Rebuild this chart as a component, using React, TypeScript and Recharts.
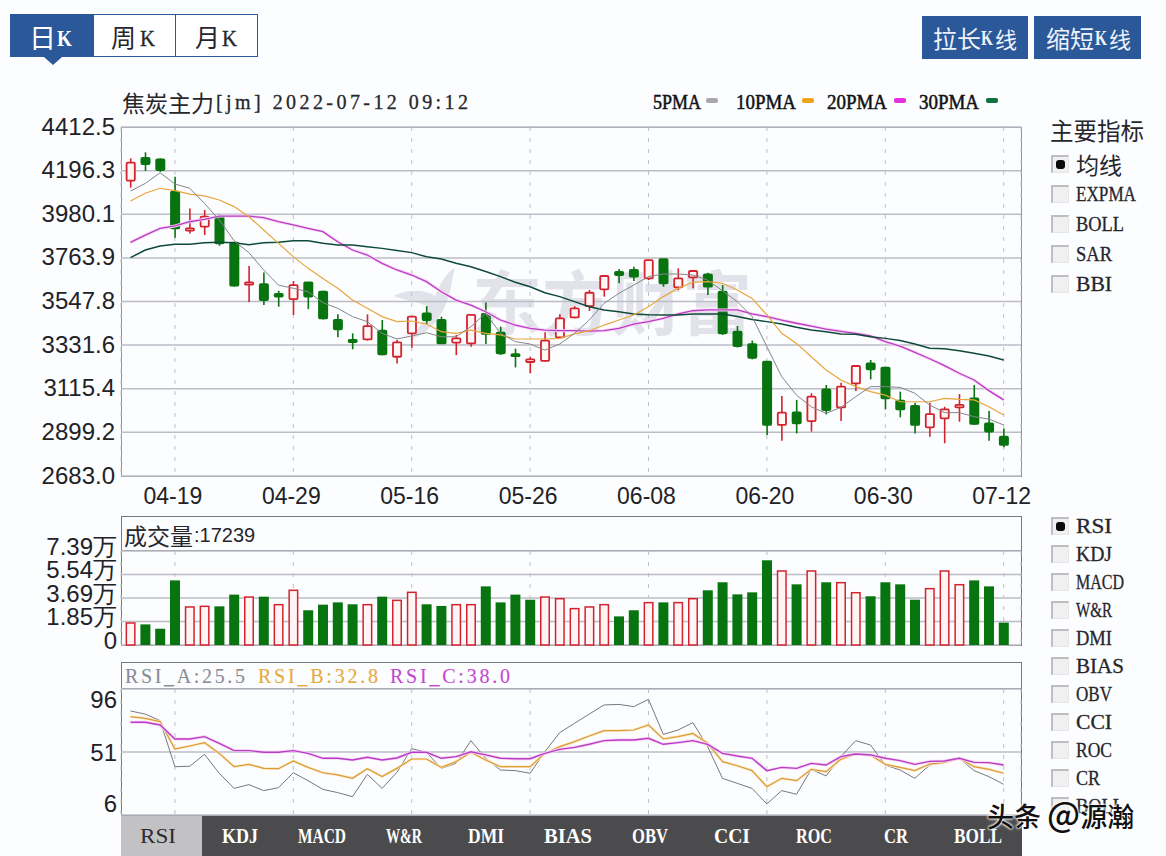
import React from 'react';
import { ComposedChart, Bar, Line, XAxis, YAxis, CartesianGrid } from 'recharts';

const dateLabels = ['04-19', '04-29', '05-16', '05-26', '06-08', '06-20', '06-30', '07-12'];
const dateTicks = [3, 11, 19, 27, 35, 43, 51, 59];
const priceTicks = [2683, 2899.2, 3115.4, 3331.6, 3547.8, 3763.9, 3980.1, 4196.3, 4412.5];
const volumeTicks = [0, 1.85, 3.69, 5.54, 7.39];
const rsiTicks = [6, 51, 96];

const high = [4257,4287,4257,4166,4009,4001,3980,3839,3724,3692,3601,3649,3643,3601,3484,3390,3484,3456,3357,3476,3525,3473,3382,3486,3543,3423,3314,3274,3395,3484,3525,3605,3679,3709,3720,3753,3758,3712,3700,3690,3629,3426,3354,3250,3079,3060,3093,3134,3145,3233,3258,3225,3101,3046,3046,3026,3089,3134,3005,2919];
const bodyTop = [4236,4259,4252,4092,3910,3968,3968,3839,3643,3634,3585,3629,3643,3596,3456,3357,3426,3403,3345,3473,3489,3456,3365,3481,3486,3393,3287,3261,3354,3464,3514,3591,3674,3695,3704,3753,3757,3662,3699,3682,3596,3398,3337,3250,2997,2998,3076,3112,3126,3228,3241,3220,3056,3030,2990,3013,3035,3068,2944,2878];
const bodyBottom = [4147,4229,4199,3910,3899,3919,3836,3626,3631,3555,3572,3560,3572,3464,3410,3347,3360,3286,3274,3390,3456,3340,3344,3340,3387,3291,3277,3248,3254,3370,3469,3525,3608,3679,3671,3662,3638,3618,3667,3621,3390,3327,3269,2936,2936,2944,2955,3010,3023,3142,3212,3068,3013,2936,2924,2969,3023,2941,2903,2837];
const low = [4112,4194,4190,3864,3885,3877,3824,3621,3545,3530,3522,3481,3510,3459,3370,3311,3354,3281,3241,3319,3436,3337,3282,3324,3337,3283,3221,3192,3251,3365,3464,3501,3572,3638,3649,3654,3621,3605,3613,3580,3382,3320,3261,2886,2858,2894,2903,2988,2955,3104,3162,3013,2974,2894,2878,2845,2952,2936,2858,2825];
const candleRising = [1,0,0,0,1,1,0,0,1,0,0,1,0,0,0,0,1,0,1,1,0,0,1,1,0,0,0,1,1,1,1,1,1,0,0,1,0,1,1,0,0,0,0,0,1,0,1,0,1,1,0,0,0,0,1,1,1,0,0,0];

const ma5 = [4095,4133,4186,4130,4109,4034,3952,3849,3790,3704,3629,3613,3596,3542,3514,3473,3448,3390,3362,3377,3393,3373,3373,3423,3489,3390,3349,3337,3307,3337,3390,3456,3539,3588,3629,3671,3684,3684,3679,3654,3601,3547,3473,3324,3175,3084,3026,2993,3023,3076,3126,3126,3122,3093,3035,2997,2997,2977,2965,2936];
const ma10 = [4046,4084,4109,4097,4080,4071,4051,4018,3968,3902,3836,3770,3712,3662,3613,3555,3514,3473,3448,3451,3436,3398,3390,3406,3390,3382,3362,3362,3362,3365,3387,3403,3431,3456,3481,3522,3572,3613,3643,3646,3638,3605,3563,3481,3390,3340,3274,3208,3159,3126,3101,3084,3051,3051,3051,3068,3063,3060,3026,2985];
const ma20 = [3841,3877,3910,3922,3943,3955,3971,3971,3971,3963,3943,3927,3910,3894,3844,3803,3778,3737,3704,3679,3646,3596,3555,3530,3497,3456,3431,3415,3406,3403,3403,3401,3403,3415,3436,3448,3464,3486,3502,3506,3506,3506,3486,3473,3456,3440,3426,3411,3400,3390,3377,3349,3327,3296,3264,3230,3192,3159,3106,3060];
const ma30 = [3765,3803,3823,3831,3831,3839,3841,3839,3829,3839,3841,3849,3849,3836,3828,3828,3819,3811,3800,3790,3770,3758,3737,3720,3696,3671,3643,3621,3591,3572,3547,3522,3506,3497,3486,3482,3481,3481,3486,3486,3486,3473,3459,3448,3436,3420,3406,3398,3387,3385,3373,3365,3354,3337,3316,3314,3304,3291,3278,3258];

const volume = [1.73,1.62,1.28,5.08,2.99,3.04,3.04,3.96,3.77,3.80,3.17,4.30,2.73,3.17,3.35,3.20,3.17,3.80,3.51,4.14,3.20,3.07,3.17,3.17,4.61,3.35,3.96,3.56,3.77,3.64,2.86,2.99,3.17,2.25,2.73,3.33,3.35,3.33,3.64,4.30,4.93,3.98,4.14,6.66,5.82,4.77,5.82,4.93,4.90,4.11,3.83,4.93,4.77,3.56,4.43,5.82,4.74,5.08,4.61,1.76];
const volumeRising = [1,0,0,0,1,1,0,0,1,0,1,1,0,0,0,0,1,0,1,1,0,0,1,1,0,0,0,0,1,1,1,1,1,0,0,1,0,1,1,0,0,0,0,0,1,0,1,0,1,1,0,0,0,0,1,1,1,0,0,0];

const rsiA = [80.3,78.1,73.4,40.5,40.8,49.3,35.8,25.0,27.7,23.4,25.5,36.2,30.5,24.3,22.0,19.1,35.0,25.0,36.5,53.4,50.8,39.3,42.9,59.1,46.5,38.1,37.7,35.8,51.2,64.8,71.5,78.1,84.6,85.0,83.4,88.6,63.6,66.7,72.0,54.8,32.2,28.6,25.0,13.9,23.4,20.8,38.6,33.9,47.7,59.1,56.0,41.7,38.1,32.2,41.7,43.6,46.5,37.7,33.4,27.9];
const rsiB = [76.2,75.0,72.7,53.1,55.3,57.7,50.0,40.5,42.2,39.3,39.1,44.6,40.0,36.2,34.6,32.2,39.1,33.4,39.3,46.0,46.0,40.0,44.1,50.8,45.3,40.5,40.5,40.5,50.0,54.8,58.4,62.4,66.2,66.2,66.7,70.3,60.3,62.0,64.3,57.2,44.1,41.2,37.7,26.2,32.2,30.5,38.6,37.0,45.8,49.6,48.9,42.2,40.0,37.7,42.4,43.6,46.5,40.5,38.6,35.8];
const rsiC = [72.2,72.2,70.3,60.3,60.3,62.0,57.2,52.0,52.0,50.8,50.8,52.0,50.0,46.5,46.5,45.3,47.2,45.3,46.7,50.8,50.8,46.5,47.7,51.2,48.9,46.5,46.2,46.2,50.0,52.9,54.3,56.5,59.1,59.6,59.6,60.8,56.5,57.7,59.1,56.5,50.0,48.1,46.5,37.7,40.0,39.3,42.9,41.7,47.7,49.6,48.9,46.5,44.8,42.2,44.3,44.6,46.5,43.6,43.4,41.7];

const mainIndicators = ['均线', 'EXPMA', 'BOLL', 'SAR', 'BBI'];
const subIndicators = ['RSI', 'KDJ', 'MACD', 'W&R', 'DMI', 'BIAS', 'OBV', 'CCI', 'ROC', 'CR', 'BOLL'];
const maLegend = [
  { name: '5PMA', color: '#a9a9ad', text: 653, swatch: 706 },
  { name: '10PMA', color: '#eea51c', text: 736, swatch: 802 },
  { name: '20PMA', color: '#e52fe0', text: 827, swatch: 894 },
  { name: '30PMA', color: '#0c7440', text: 919, swatch: 986 },
];

const rows = high.map((h, i) => ({
  i, high: h, low: low[i], top: bodyTop[i], bottom: bodyBottom[i], rising: candleRising[i],
  ma5: ma5[i], ma10: ma10[i], ma20: ma20[i], ma30: ma30[i],
  volume: volume[i], volRising: volumeRising[i],
  rsiA: rsiA[i], rsiB: rsiB[i], rsiC: rsiC[i],
}));

const RED = '#d3232e';
const GREEN = '#08740f';
const BLUE = '#2a5898';
const SERIF = '"Liberation Serif", serif';
const CJK = '"Noto Sans CJK SC", sans-serif';
const SANS = '"Liberation Sans", sans-serif';
const X_DOMAIN: [number, number] = [-0.642, 60.17];
const GRID = '#bcbdc6';
const DASH = '#bfc0c4';

function Candle(props: any) {
  const { x, y, width, height, payload } = props;
  const color = payload.rising ? RED : GREEN;
  const cx = x + width / 2 + 0.6;
  const per = height / (payload.high - payload.low);
  const yTop = y + (payload.high - payload.top) * per;
  const yBot = y + (payload.high - payload.bottom) * per;
  return (
    <g>
      <line x1={cx} x2={cx} y1={y} y2={y + height} stroke={color} strokeWidth={1.6} />
      <rect x={x + 1.5} y={yTop} width={width - 1.8} height={Math.max(yBot - yTop, 1.5)} rx={1}
        fill={payload.rising ? '#fff6f6' : color} stroke={color} strokeWidth={1.8} />
    </g>
  );
}

function VolumeBar(props: any) {
  const { x, y, width, height, payload } = props;
  return payload.volRising ? (
    <rect x={x + 1.25} y={y} width={width - 1.5} height={height} fill="#fff4f4" stroke={RED} strokeWidth={1.5} />
  ) : (
    <rect x={x + 0.5} y={y} width={width} height={height} fill={GREEN} />
  );
}

function axisText(x: number, y: number, s: string) {
  return (
    <text x={x} y={y} textAnchor="end" dominantBaseline="central" fill="#222226"
      style={{ fontFamily: SANS, fontSize: 24 }}>{s}</text>
  );
}

const PriceTick = ({ x, y, payload }: any) => axisText(x, y - 1, payload.value === 2683 ? '2683.0' : String(payload.value));
const VolumeTick = ({ x, y, payload }: any) =>
  axisText(x + 2, y - 5, payload.value === 0 ? '0' : `${payload.value}万`);
const RsiTick = ({ x, y, payload }: any) =>
  axisText(x + 2, y + (payload.value === 96 ? 10 : payload.value === 6 ? -12 : 0), String(payload.value));
const DateTick = ({ x, y, payload }: any) => (
  <text x={x - 2} y={y + 12} textAnchor="middle" dominantBaseline="central" fill="#222226" style={{ fontFamily: SANS, fontSize: 23 }}>
    {dateLabels[dateTicks.indexOf(payload.value)]}
  </text>
);

const Txt = ({ x, y, size = 20, font = CJK, color = '#26262c', weight = 400, children, extra }: any) => (
  <span style={{ position: 'absolute', left: x, top: y, transform: 'translateY(-50%)', fontFamily: font, fontSize: size, color,
    fontWeight: weight, whiteSpace: 'pre', lineHeight: 1, ...extra }}>{children}</span>
);

// Latin captions: a serif fitted to the fixed character cell the reference uses.
const Cell = ({ x, y, size = 20, cell = 12, color = '#26262c', weight = 400, centre = false, children, bold = 0.3, adjust = 'spacingAndGlyphs' }: any) => {
  const s = String(children);
  const w = s.length * cell;
  return (
    <text x={centre ? x - w / 2 : x} y={y} dominantBaseline="central" textLength={w} lengthAdjust={adjust}
      fill={color} stroke={color} strokeWidth={bold} xmlSpace="preserve"
      style={{ fontFamily: SERIF, fontSize: size, fontWeight: weight, whiteSpace: 'pre' }}>{s}</text>
  );
};

const Box = ({ x, y, w, h, bg, border, extra }: any) => (
  <div style={{ position: 'absolute', left: x, top: y, width: w, height: h, boxSizing: 'border-box', background: bg, border, ...extra }} />
);

const Check = ({ y, on }: any) => (
  <div style={{ position: 'absolute', left: 1051, top: y - 9, width: 18, height: 18, boxSizing: 'border-box', background: '#f0f0f1',
    borderTop: '2px solid #bdbdc2', borderLeft: '2px solid #bdbdc2', borderRight: '1px solid #e6e6e8', borderBottom: '1px solid #e6e6e8' }}>
    {on ? <div style={{ position: 'absolute', left: 3, top: 3, width: 9, height: 9, borderRadius: 3, background: '#0a0a0a' }} /> : null}
  </div>
);

const sharedX = (
  <XAxis dataKey="i" type="number" domain={X_DOMAIN} ticks={dateTicks} hide allowDataOverflow />
);

export default function App() {
  return (
    <div style={{ position: 'absolute', left: 0, top: 0, width: 1166, height: 856, overflow: 'hidden', background: '#fcfdfe' }}>
      <svg style={{ position: 'absolute', left: 385, top: 262 }} width={85} height={85}>
        <path d="M8 34 C24 26 42 28 50 34 C56 20 62 10 70 6 C66 20 66 36 56 52 C48 66 36 74 24 78 C36 64 42 54 42 44 C32 40 20 38 8 34 Z" fill="#e2e3ea" />
      </svg>
      <Txt x={472} y={300} size={70} color="#e2e3ea" weight={700}>东方财富</Txt>

      <Box x={121} y={127} w={901} h={350} border="1.5px solid #8f9098" />
      <Box x={121} y={516} w={901} h={130} border="1.5px solid #77787f" />
      <Box x={121} y={550} w={901} h={1} bg="#77787f" />
      <Box x={121} y={662} w={901} h={154} border="1.5px solid #77787f" />
      <Box x={121} y={688} w={901} h={1} bg="#77787f" />

      <div style={{ position: 'absolute', left: 0, top: 0 }}>
        <ComposedChart width={1166} height={520} data={rows} margin={{ top: 127, right: 145, bottom: 0, left: 0 }}>
          <CartesianGrid vertical={false} stroke={GRID} strokeWidth={1.5} />
          <CartesianGrid horizontal={false} stroke={DASH} strokeDasharray="4 7" strokeWidth={1} />
          <XAxis dataKey="i" type="number" domain={X_DOMAIN} ticks={dateTicks} interval={0} height={44}
            axisLine={false} tickLine={false} tick={<DateTick />} allowDataOverflow />
          <YAxis width={121} type="number" domain={[2683, 4412.5]} ticks={priceTicks} interval={0} axisLine={false} tickLine={false}
            tick={<PriceTick />} tickMargin={0} allowDataOverflow />
          <Bar dataKey={(d: any) => [d.low, d.high]} barSize={10} shape={<Candle />} isAnimationActive={false} />
          <Line dataKey="ma20" stroke="#f8d4f6" strokeWidth={3} dot={false} isAnimationActive={false} legendType="none" />
          <Line dataKey="ma20" stroke="#b93cc4" strokeWidth={1.3} dot={false} isAnimationActive={false} legendType="none" />
          <Line dataKey="ma30" stroke="#0f4a38" strokeWidth={1.5} dot={false} isAnimationActive={false} />
          <Line dataKey="ma10" stroke="#e9a63d" strokeWidth={1.2} dot={false} isAnimationActive={false} />
          <Line dataKey="ma5" stroke="#85858c" strokeWidth={1} dot={false} isAnimationActive={false} />
        </ComposedChart>
      </div>

      <div style={{ position: 'absolute', left: 0, top: 0 }}>
        <ComposedChart width={1166} height={665} data={rows} margin={{ top: 551, right: 145, bottom: 20, left: 0 }}>
          <CartesianGrid vertical={false} stroke={GRID} strokeWidth={1.5} />
          <CartesianGrid horizontal={false} stroke={DASH} strokeDasharray="4 7" strokeWidth={1} />
          {sharedX}
          <YAxis width={121} type="number" domain={[0, 7.39]} ticks={volumeTicks} interval={0} axisLine={false} tickLine={false}
            tick={<VolumeTick />} tickMargin={0} />
          <Bar dataKey="volume" barSize={10} shape={<VolumeBar />} isAnimationActive={false} />
        </ComposedChart>
      </div>

      <div style={{ position: 'absolute', left: 0, top: 0 }}>
        <ComposedChart width={1166} height={830} data={rows} margin={{ top: 689, right: 145, bottom: 15, left: 0 }}>
          <CartesianGrid vertical={false} stroke={GRID} strokeWidth={1.5} />
          <CartesianGrid horizontal={false} stroke={DASH} strokeDasharray="4 7" strokeWidth={1} />
          {sharedX}
          <YAxis width={121} type="number" domain={[6, 96]} ticks={rsiTicks} interval={0} axisLine={false} tickLine={false}
            tick={<RsiTick />} tickMargin={0} />
          <Line dataKey="rsiA" stroke="#77777e" strokeWidth={1} dot={false} isAnimationActive={false} />
          <Line dataKey="rsiB" stroke="#fae8c4" strokeWidth={2.6} dot={false} isAnimationActive={false} legendType="none" />
          <Line dataKey="rsiB" stroke="#dd9a35" strokeWidth={1.2} dot={false} isAnimationActive={false} />
          <Line dataKey="rsiC" stroke="#f8d4f6" strokeWidth={3} dot={false} isAnimationActive={false} legendType="none" />
          <Line dataKey="rsiC" stroke="#b93cc4" strokeWidth={1.4} dot={false} isAnimationActive={false} />
        </ComposedChart>
      </div>

      <Box x={10} y={14} w={83} h={43} bg={BLUE} />
      <div style={{ position: 'absolute', left: 44, top: 57, width: 0, height: 0, borderLeft: '9px solid transparent', borderRight: '9px solid transparent', borderTop: `8px solid ${BLUE}` }} />
      <Box x={93} y={14} w={83} h={43} bg="#ffffff" border={`1.5px solid ${BLUE}`} />
      <Box x={175} y={14} w={83} h={43} bg="#ffffff" border={`1.5px solid ${BLUE}`} />
      <Box x={922} y={16} w={106} h={43} bg={BLUE} />
      <Box x={1034} y={16} w={107} h={43} bg={BLUE} />

      <Box x={121} y={816} w={901} h={40} bg="#4b4b4e" />
      <Box x={121} y={816} w={81} h={40} bg="#c2c2c4" />

      <Txt x={29} y={36} size={27} color="#ffffff">日</Txt>
      <Txt x={111} y={36} size={25}>周</Txt>
      <Txt x={195} y={36} size={25}>月</Txt>
      <Txt x={933} y={38} size={24} color="#eef2fa">拉长</Txt>
      <Txt x={995} y={38} size={22} color="#eef2fa">线</Txt>
      <Txt x={1046} y={38} size={24} color="#eef2fa">缩短</Txt>
      <Txt x={1109} y={38} size={22} color="#eef2fa">线</Txt>
      <Txt x={122} y={102} size={23}>焦炭主力</Txt>
      <Txt x={1050} y={131} size={23.5}>主要指标</Txt>
      <Txt x={1076} y={164} size={23}>{mainIndicators[0]}</Txt>
      <Txt x={124} y={535} size={23}>成交量</Txt>
      <Txt x={194} y={535} size={20} font={SANS}>:17239</Txt>

      {maLegend.map((m) => (
        <Box key={m.name} x={m.swatch} y={98} w={12} h={5} bg={m.color} extra={{ borderRadius: 2 }} />
      ))}
      {mainIndicators.map((name, k) => <Check key={name} y={164 + k * 30} on={k === 0} />)}
      {subIndicators.map((name, k) => <Check key={name} y={526 + k * 28} on={k === 0} />)}

      <svg width={1166} height={856} style={{ position: 'absolute', left: 0, top: 0 }}>
        <Cell x={57} y={38} size={24} cell={15} color="#ffffff" weight={700} bold={0}>K</Cell>
        <Cell x={140} y={38} size={24} cell={15}>K</Cell>
        <Cell x={222} y={38} size={24} cell={15}>K</Cell>
        <Cell x={981} y={38} size={20} cell={12} color="#eef2fa" weight={700} bold={0}>K</Cell>
        <Cell x={1095} y={38} size={20} cell={12} color="#eef2fa" weight={700} bold={0}>K</Cell>
        <Cell x={216} y={102} adjust="spacing">{'[jm] 2022-07-12 09:12'}</Cell>
        {maLegend.map((m) => <Cell key={m.name} x={m.text} y={102} color="#111114" bold={0.5}>{m.name}</Cell>)}
        {mainIndicators.slice(1).map((name, k) => <Cell key={name} x={1076} y={194 + k * 30}>{name}</Cell>)}
        {subIndicators.map((name, k) => <Cell key={name} x={1076} y={526 + k * 28}>{name}</Cell>)}
        <Cell x={125} y={676} color="#8a8b95" bold={0.1} adjust="spacing">RSI_A:25.5</Cell>
        <Cell x={258} y={676} color="#e6aa3c" bold={0.1} adjust="spacing">RSI_B:32.8</Cell>
        <Cell x={390} y={676} color="#c548d2" bold={0.1} adjust="spacing">RSI_C:38.0</Cell>
        {subIndicators.map((name, k) => (
          <Cell key={name} x={158 + k * 82} y={836} centre color={k === 0 ? '#2c2c30' : '#ffffff'} weight={k === 0 ? 400 : 700} bold={0}>{name}</Cell>
        ))}
      </svg>

      <Txt x={987} y={813} size={27} color="#101010" weight={500}
        extra={{ textShadow: '0 0 3px #fff, 0 0 3px #fff, 0 0 2px #fff' }}>头条 <span style={{ fontSize: 34 }}>@</span>源瀚</Txt>
    </div>
  );
}
